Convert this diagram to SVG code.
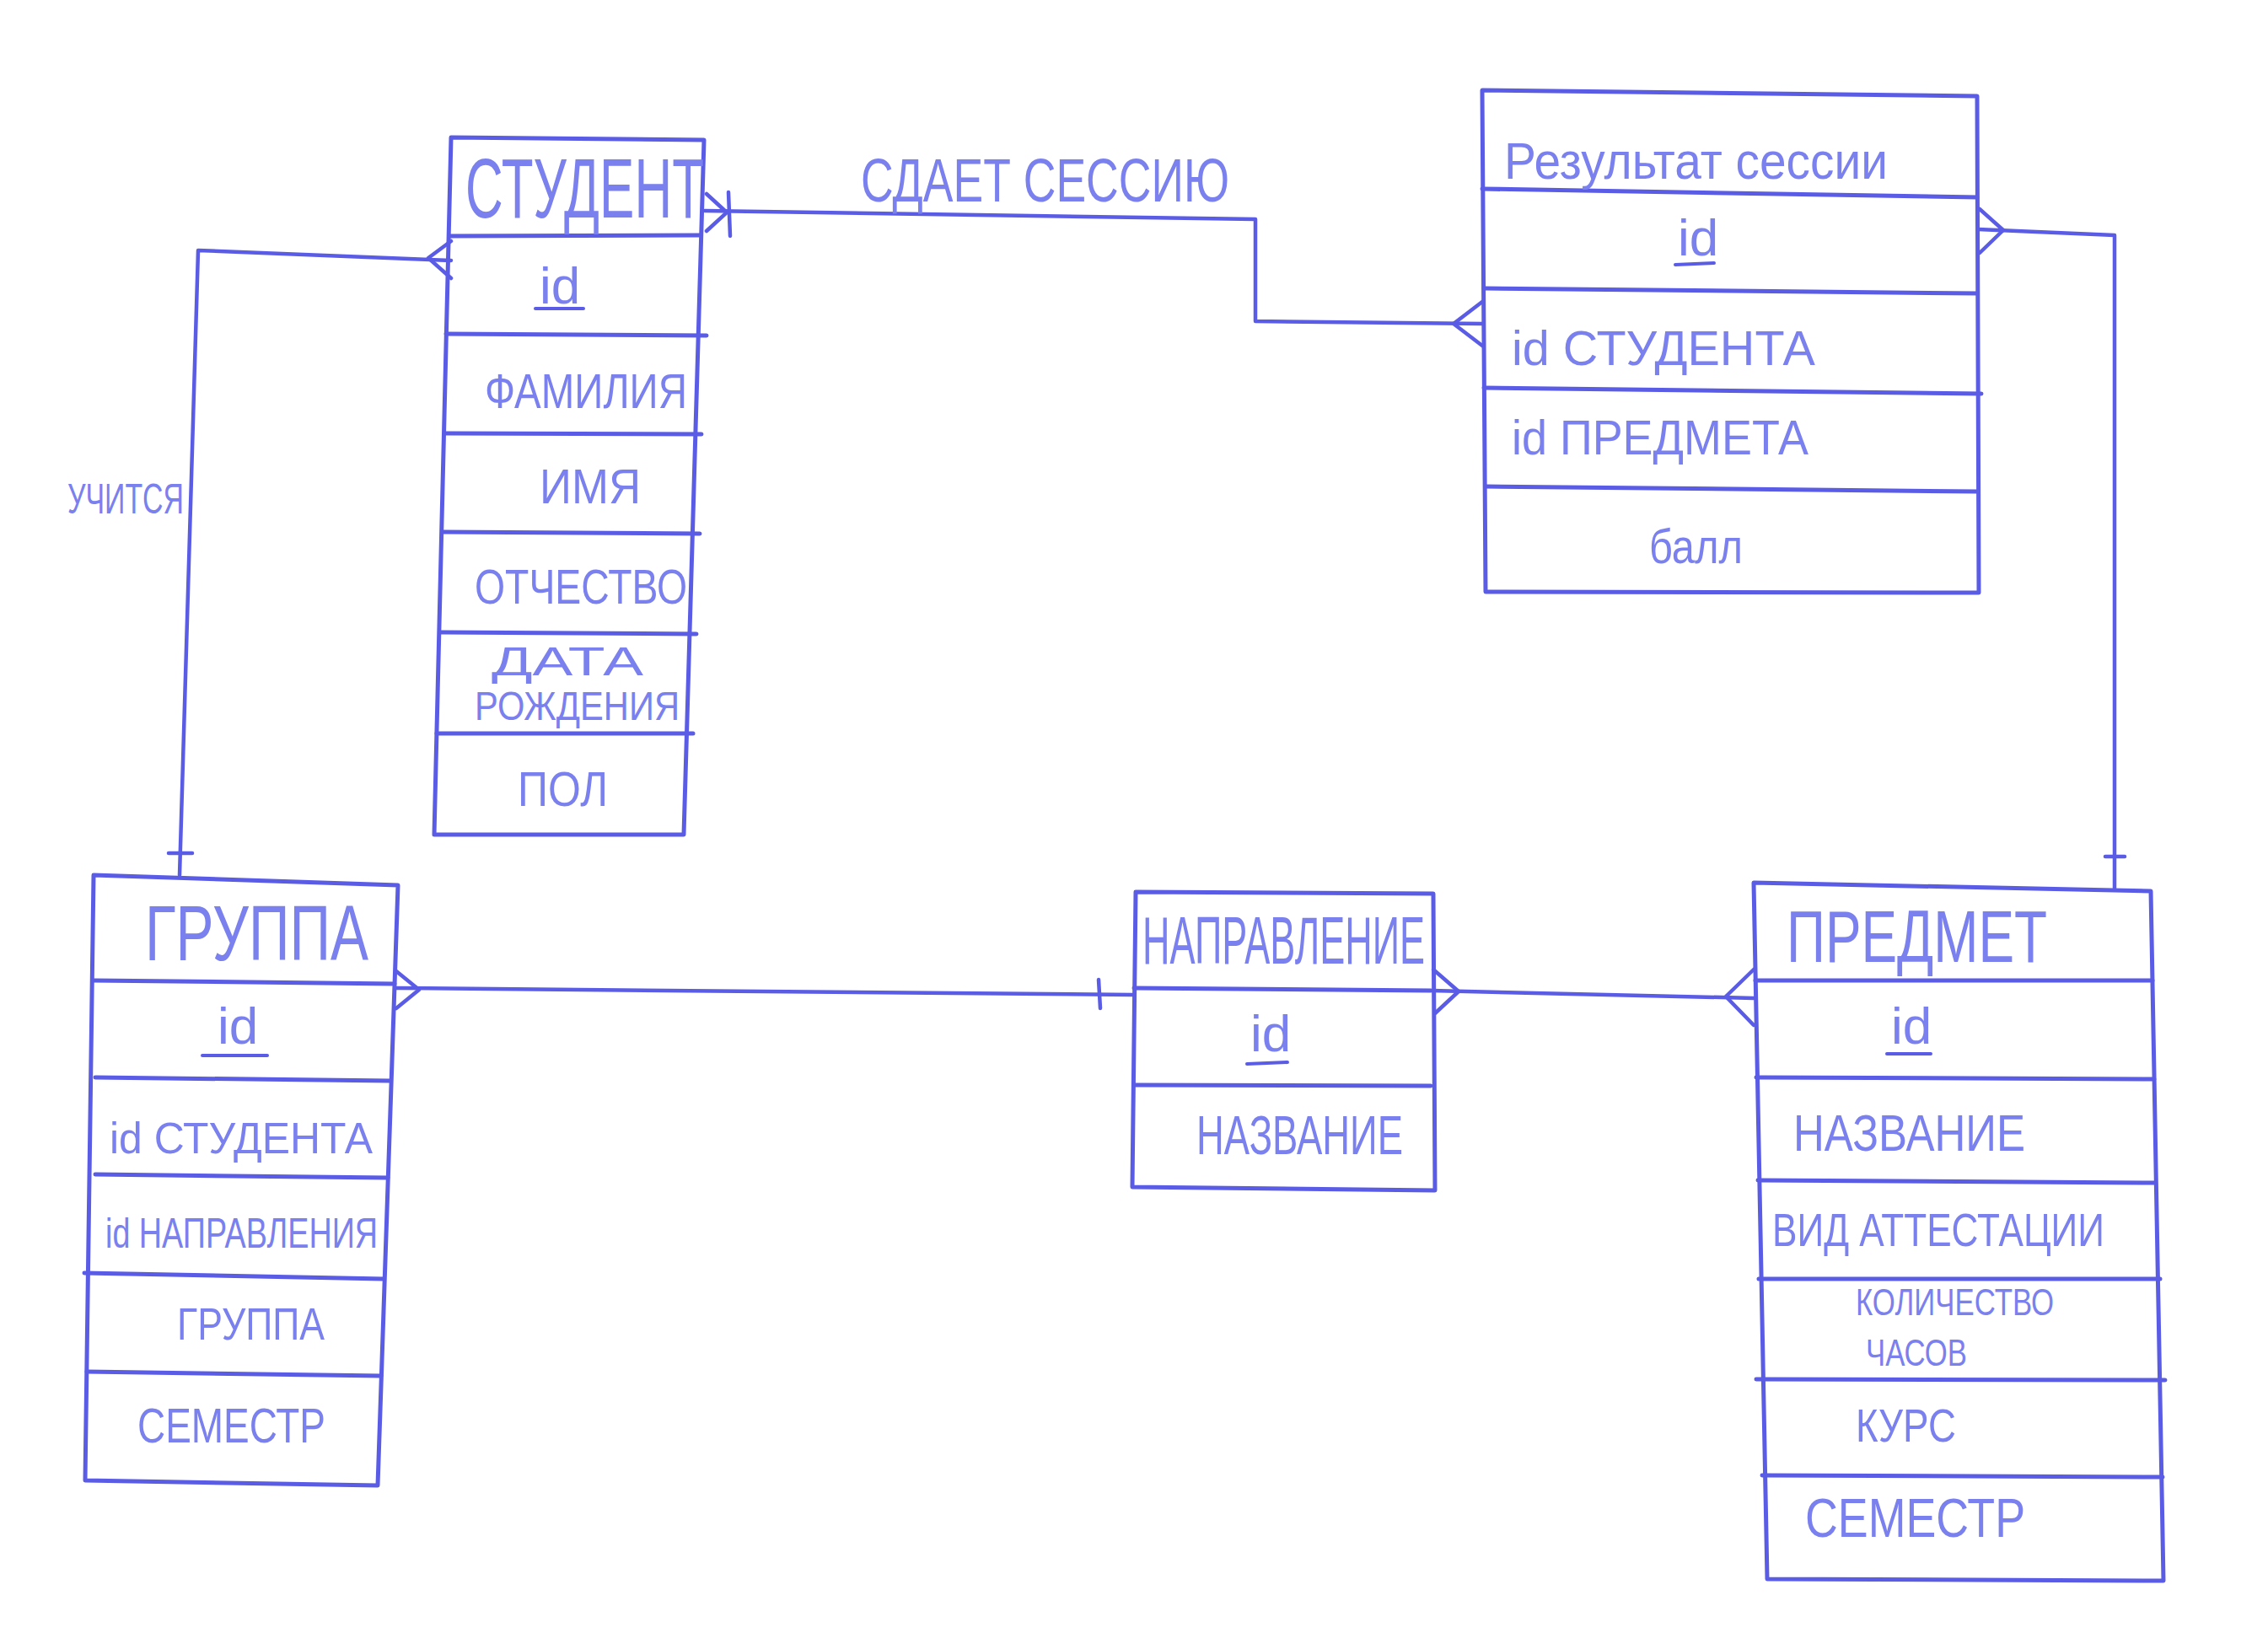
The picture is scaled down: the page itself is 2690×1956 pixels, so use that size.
<svg xmlns="http://www.w3.org/2000/svg" width="2690" height="1956" viewBox="0 0 2690 1956">
<style>
.ln{stroke:#5a5ce6;stroke-width:5;fill:none;stroke-linecap:round;stroke-linejoin:round}
.cn{stroke:#5a5ce6;stroke-width:4.5;fill:none;stroke-linecap:round;stroke-linejoin:round}
.t{font-family:"Liberation Sans","DejaVu Sans",sans-serif;fill:#7a80ee;dominant-baseline:central}
.ul{stroke:#5a5ce6;stroke-width:4;stroke-linecap:round}
</style>
<rect width="2690" height="1956" fill="#ffffff"/>
<g id="connectors">
  <path class="cn" d="M836,250 L1489,260 L1489,381 L1758,384"/>
  <path class="cn" d="M838,230 L862,252 L838,274"/>
  <path class="cn" d="M864,228 L866,280"/>
  <path class="cn" d="M1758,358 L1724,384 L1758,410"/>
  <text class="t" x="1021" y="214" font-size="72" textLength="437" lengthAdjust="spacingAndGlyphs">СДАЕТ СЕССИЮ</text>
  <path class="cn" d="M2346,272 L2508,279 L2508,1055"/>
  <path class="cn" d="M2348,248 L2376,273 L2348,300"/>
  <path class="cn" d="M2497,1016 L2520,1016"/>
  <path class="cn" d="M535,309 L235,297 L213,1038"/>
  <path class="cn" d="M535,286 L508,306 L535,330"/>
  <path class="cn" d="M200,1012 L228,1012"/>
  <text class="t" x="80" y="592" font-size="50" textLength="138" lengthAdjust="spacingAndGlyphs">УЧИТСЯ</text>
  <path class="cn" d="M470,1172 L1343,1180"/>
  <path class="cn" d="M470,1152 L497,1174 L470,1196"/>
  <path class="cn" d="M1303,1162 L1305,1196"/>
  <path class="cn" d="M1698,1175 L2080,1184"/>
  <path class="cn" d="M1700,1150 L1730,1176 L1702,1202"/>
  <path class="cn" d="M2080,1150 L2047,1182 L2080,1216"/>
</g>
<g id="student">
  <path class="ln" d="M535,163 L835,166 L811,990 L515,990 Z"/>
  <path class="ln" d="M533,280 L830,279 M529,396 L838,398 M527,514 L832,515 M525,631 L830,633 M522,750 L826,752 M518,870 L822,870"/>
  <text class="t" x="552" y="223" font-size="100" textLength="283" lengthAdjust="spacingAndGlyphs">СТУДЕНТ</text>
  <text class="t" x="640" y="338" font-size="62">id</text>
  <line class="ul" x1="635" y1="366" x2="692" y2="366"/>
  <text class="t" x="575" y="463" font-size="58" textLength="240" lengthAdjust="spacingAndGlyphs">ФАМИЛИЯ</text>
  <text class="t" x="640" y="576" font-size="58" textLength="120" lengthAdjust="spacingAndGlyphs">ИМЯ</text>
  <text class="t" x="563" y="695" font-size="58" textLength="252" lengthAdjust="spacingAndGlyphs">ОТЧЕСТВО</text>
  <text class="t" x="583" y="784" font-size="48" textLength="180" lengthAdjust="spacingAndGlyphs">ДАТА</text>
  <text class="t" x="563" y="837" font-size="48" textLength="243" lengthAdjust="spacingAndGlyphs">РОЖДЕНИЯ</text>
  <text class="t" x="614" y="935" font-size="58" textLength="107" lengthAdjust="spacingAndGlyphs">ПОЛ</text>
</g>
<g id="session-result">
  <path class="ln" d="M1758,107 L2345,114 L2347,703 L1762,702 Z"/>
  <path class="ln" d="M1758,224 L2345,234 M1760,342 L2345,348 M1760,460 L2350,467 M1762,577 L2345,583"/>
  <text class="t" x="1784" y="190" font-size="62" textLength="455" lengthAdjust="spacingAndGlyphs">Результат сессии</text>
  <text class="t" x="1990" y="281" font-size="62">id</text>
  <line class="ul" x1="1987" y1="314" x2="2033" y2="312"/>
  <text class="t" x="1793" y="412" font-size="58" textLength="360" lengthAdjust="spacingAndGlyphs">id СТУДЕНТА</text>
  <text class="t" x="1793" y="518" font-size="58" textLength="352" lengthAdjust="spacingAndGlyphs">id ПРЕДМЕТА</text>
  <text class="t" x="1956" y="647" font-size="58" textLength="111" lengthAdjust="spacingAndGlyphs">балл</text>
</g>
<g id="group">
  <path class="ln" d="M111,1038 L472,1050 L448,1762 L101,1756 Z"/>
  <path class="ln" d="M111,1163 L468,1167 M113,1278 L462,1282 M113,1393 L460,1397 M100,1510 L455,1517 M103,1627 L452,1632"/>
  <text class="t" x="172" y="1107" font-size="92" textLength="265" lengthAdjust="spacingAndGlyphs">ГРУППА</text>
  <text class="t" x="258" y="1216" font-size="62">id</text>
  <line class="ul" x1="240" y1="1252" x2="317" y2="1252"/>
  <text class="t" x="130" y="1350" font-size="52" textLength="312" lengthAdjust="spacingAndGlyphs">id СТУДЕНТА</text>
  <text class="t" x="125" y="1463" font-size="50" textLength="323" lengthAdjust="spacingAndGlyphs">id НАПРАВЛЕНИЯ</text>
  <text class="t" x="210" y="1570" font-size="54" textLength="175" lengthAdjust="spacingAndGlyphs">ГРУППА</text>
  <text class="t" x="163" y="1690" font-size="58" textLength="223" lengthAdjust="spacingAndGlyphs">СЕМЕСТР</text>
</g>
<g id="direction">
  <path class="ln" d="M1347,1058 L1700,1060 L1702,1412 L1343,1408 Z"/>
  <path class="ln" d="M1345,1172 L1697,1175 M1345,1287 L1697,1288"/>
  <text class="t" x="1355" y="1115" font-size="80" textLength="335" lengthAdjust="spacingAndGlyphs">НАПРАВЛЕНИЕ</text>
  <text class="t" x="1483" y="1225" font-size="62">id</text>
  <line class="ul" x1="1479" y1="1262" x2="1527" y2="1260"/>
  <text class="t" x="1419" y="1347" font-size="64" textLength="245" lengthAdjust="spacingAndGlyphs">НАЗВАНИЕ</text>
</g>
<g id="subject">
  <path class="ln" d="M2080,1047 L2551,1057 L2566,1875 L2096,1873 Z"/>
  <path class="ln" d="M2082,1163 L2553,1163 M2083,1278 L2555,1280 M2085,1400 L2555,1403 M2086,1517 L2562,1517 M2083,1636 L2568,1637 M2090,1750 L2565,1752"/>
  <text class="t" x="2119" y="1110" font-size="88" textLength="309" lengthAdjust="spacingAndGlyphs">ПРЕДМЕТ</text>
  <text class="t" x="2243" y="1216" font-size="62">id</text>
  <line class="ul" x1="2238" y1="1250" x2="2290" y2="1250"/>
  <text class="t" x="2127" y="1343" font-size="62" textLength="275" lengthAdjust="spacingAndGlyphs">НАЗВАНИЕ</text>
  <text class="t" x="2102" y="1458" font-size="56" textLength="394" lengthAdjust="spacingAndGlyphs">ВИД АТТЕСТАЦИИ</text>
  <text class="t" x="2201" y="1544" font-size="44" textLength="235" lengthAdjust="spacingAndGlyphs">КОЛИЧЕСТВО</text>
  <text class="t" x="2213" y="1604" font-size="44" textLength="120" lengthAdjust="spacingAndGlyphs">ЧАСОВ</text>
  <text class="t" x="2201" y="1690" font-size="56" textLength="119" lengthAdjust="spacingAndGlyphs">КУРС</text>
  <text class="t" x="2141" y="1801" font-size="64" textLength="261" lengthAdjust="spacingAndGlyphs">СЕМЕСТР</text>
</g>
</svg>
